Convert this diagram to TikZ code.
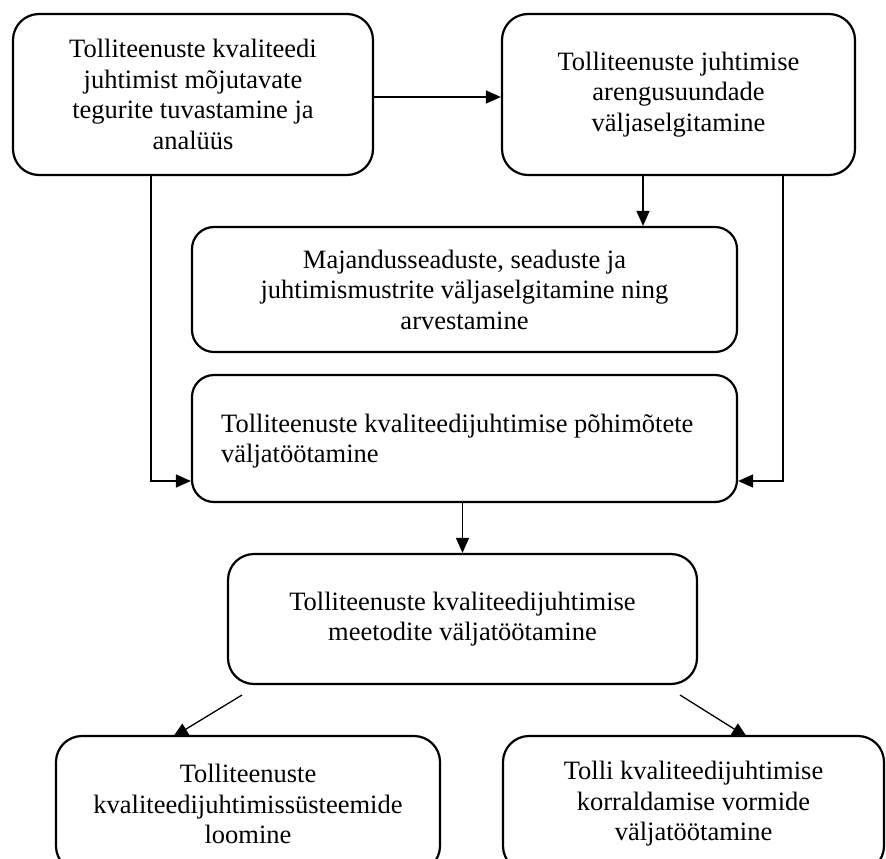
\documentclass[tikz,border=0pt]{standalone}
\usepackage{fontspec}
\setmainfont{Liberation Serif}
\usetikzlibrary{arrows.meta}
\begin{document}
\begin{tikzpicture}[x=1pt,y=-1pt,
  box/.style={draw, line width=2.2pt, rounded corners=26pt, align=center,
    inner sep=0pt, font=\fontsize{26.5}{30.5}\selectfont},
  arr/.style={line width=1.3pt, -{Triangle[length=15pt,width=13pt]}}]
\useasboundingbox (0,0) rectangle (886,859);
\clip (0,0) rectangle (886,859);
\node[box, minimum width=360pt, minimum height=161pt] (A) at (193,94.5)
  {Tolliteenuste kvaliteedi\\juhtimist mõjutavate\\tegurite tuvastamine ja\\analüüs};
\node[box, minimum width=353pt, minimum height=161pt] (B) at (678.5,94.5)
  {Tolliteenuste juhtimise\\arengusuundade\\väljaselgitamine};
\node[box, rounded corners=22pt, minimum width=545pt, minimum height=125pt] (C) at (464.5,289.5)
  {Majandusseaduste, seaduste ja\\juhtimismustrite väljaselgitamine ning\\arvestamine};
\node[box, rounded corners=22pt, minimum width=545pt, minimum height=127pt] (D) at (464.5,438.5) {};
\node[font=\fontsize{26.5}{30.5}\selectfont, align=left, inner sep=0pt, anchor=west] (Dt) at (221,441)
  {Tolliteenuste kvaliteedijuhtimise põhimõtete\\väljatöötamine};
\node[box, minimum width=469pt, minimum height=130pt] (E) at (462.5,619)
  {Tolliteenuste kvaliteedijuhtimise\\meetodite väljatöötamine};
\node[box, minimum width=384pt, minimum height=136pt] (F) at (248,804)
  {Tolliteenuste\\kvaliteedijuhtimissüsteemide\\loomine};
\node[box, minimum width=381pt, minimum height=136pt] (G) at (693.5,804)
  {Tolli kvaliteedijuhtimise\\korraldamise vormide\\väljatöötamine};
\coordinate (aL) at (151,481);
\coordinate (bC) at (643,0);
\coordinate (bR) at (783,481);
\coordinate (e1) at (242,695);
\coordinate (f1) at (173,737);
\coordinate (e2) at (680,695);
\coordinate (g1) at (747,737);
\draw[arr] ([yshift=-2.5pt]A.east) -- ([yshift=-2.5pt]B.west);
\draw[arr] (A.south -| aL) |- (D.west |- aL);
\draw[arr] (B.south -| bC) -- (C.north -| bC);
\draw[arr] (B.south -| bR) |- (D.east |- bR);
\draw[arr] (D.south -| E.north) -- (E.north);
\draw[arr] (e1) -- (f1);
\draw[arr] (e2) -- (g1);
\end{tikzpicture}
\end{document}
